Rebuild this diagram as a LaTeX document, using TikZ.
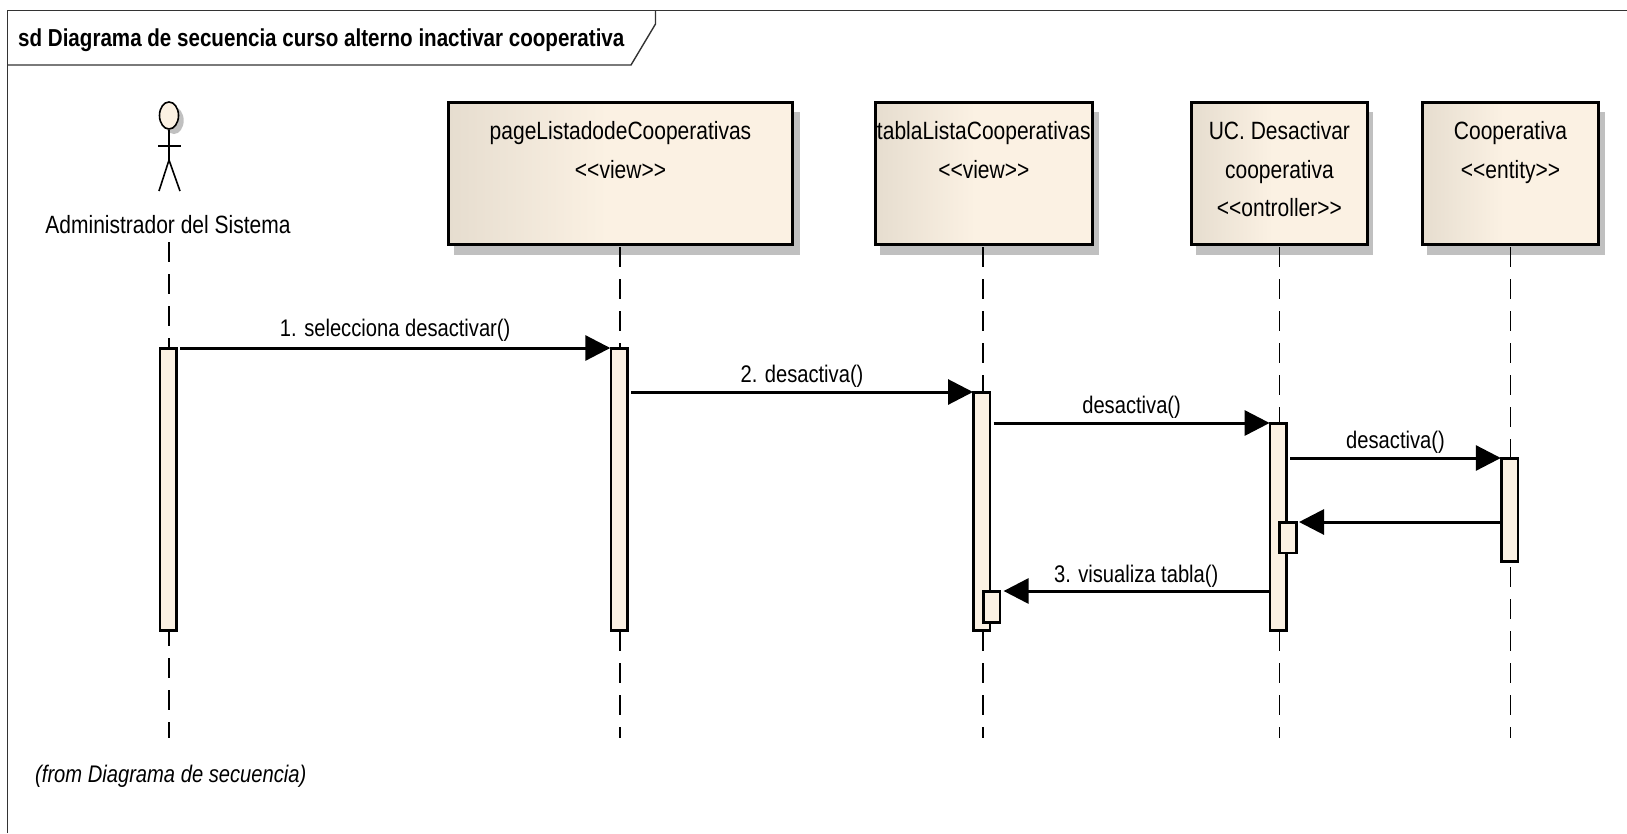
\documentclass[tikz,border=0pt]{standalone}
\usepackage{fontspec}
\setmainfont[FakeStretch=0.84]{Liberation Sans}
\usetikzlibrary{arrows.meta,shapes.geometric}
\definecolor{bgbar}{HTML}{FBF1E3}
\definecolor{bgleft}{HTML}{E6DDCF}
\definecolor{shad}{HTML}{C0C0C0}
\pgfdeclarehorizontalshading{lifehead}{100bp}{color(0bp)=(bgleft); color(25bp)=(bgleft); color(48bp)=(bgbar); color(75bp)=(bgbar); color(100bp)=(bgbar)}
\newcommand{\boxtxt}[3]{\parbox[c][#2pt][t]{#1pt}{\centering\vspace{19pt}\baselineskip=38.5pt #3\par}}
\tikzset{
  txt/.style={inner sep=0pt,font=\fontsize{24}{28}\selectfont},
  head/.style={draw=black,line width=3pt,shading=lifehead,inner sep=0pt,outer sep=0pt,anchor=north west,minimum height=142pt,font=\fontsize{25}{29}\selectfont},
  life/.style={line width=1.7pt,dash pattern=on 20pt off 12pt},
  act/.style={draw=black,line width=2.6pt,fill=bgbar,inner sep=0pt,outer sep=0pt,anchor=north west,minimum width=16.5pt},
  msg/.style={line width=3pt,-{Triangle[length=25pt,width=25pt]}},
}
\begin{document}
\begin{tikzpicture}[x=1pt,y=-1pt]
\useasboundingbox (0,0) rectangle (1627,833);
% frame
\draw[line width=1.4pt,draw=black!80] (7.5,833) -- (7.5,10.5) -- (1627,10.5);
\draw[line width=1.4pt,draw=black!80] (7.5,65) -- (631,65) -- (655.5,24) -- (655.5,10.5);
\node[txt,anchor=west,font=\fontsize{24.5}{28}\selectfont\bfseries] (title) at (18,40) {sd Diagrama de secuencia curso alterno inactivar cooperativa};
% shadows
\fill[shad] (454,112) rectangle (800,255);
\fill[shad] (879.7,112) rectangle (1099.3,255);
\fill[shad] (1195.9,112) rectangle (1373,255);
\fill[shad] (1426.8,112) rectangle (1605.2,255);
% heads
\node[head,minimum width=344pt] (page) at (448.5,102.5) {\boxtxt{344}{142}{pageListadodeCooperativas\\\mbox{<}\mbox{<}view\mbox{>}\mbox{>}}};
\node[head,minimum width=217pt] (tabla) at (875.3,102.5) {\boxtxt{217}{142}{tablaListaCooperativas\\\mbox{<}\mbox{<}view\mbox{>}\mbox{>}}};
\node[head,minimum width=175.8pt] (uc) at (1191.5,102.5) {\boxtxt{175.8}{142}{UC. Desactivar\\cooperativa\\\mbox{<}\mbox{<}ontroller\mbox{>}\mbox{>}}};
\node[head,minimum width=176.5pt] (coop) at (1422.3,102.5) {\boxtxt{176.5}{142}{Cooperativa\\\mbox{<}\mbox{<}entity\mbox{>}\mbox{>}}};
% actor
\fill[shad] (174,120.5) ellipse (9.7 and 13.5);
\node[draw=black,line width=1.6pt,fill=bgbar,ellipse,minimum width=19pt,minimum height=27pt,inner sep=0pt] (actor) at (169,115.5) {};
\coordinate (hip) at (169,160);
\draw[line width=1.6pt] (actor.south) -- (hip);
\draw[line width=2.4pt] (158,146) -- (181,146);
\draw[line width=1.6pt] (159,191) -- (hip) -- (180,191);
\node[txt,font=\fontsize{25}{29}\selectfont] (actorlabel) at (168,225) {Administrador del Sistema};
% lifeline ends
\coordinate (a0) at (169,242);
\coordinate (a1) at (169,738);
\coordinate (p0) at (620,247);
\coordinate (p1) at (620,738);
\coordinate (t0) at (982.8,247);
\coordinate (t1) at (982.8,738);
\coordinate (u0) at (1279.6,247);
\coordinate (u1) at (1279.6,738);
\coordinate (c0) at (1510.6,247);
\coordinate (c1) at (1510.6,738);
\draw[life] (a0) -- (a1);
\draw[life] (p0) -- (p1);
\draw[life] (t0) -- (t1);
\draw[life] (u0) -- (u1);
\draw[life] (c0) -- (c1);
% activations
\node[act,minimum height=282pt] (aa) at (159.8,348.3) {};
\node[act,minimum height=282pt] (ap) at (610.8,348.3) {};
\node[act,minimum height=238pt] (at) at (973.5,392.3) {};
\node[act,minimum height=207pt] (au) at (1270.1,423.3) {};
\node[act,minimum height=103pt] (ac) at (1501.3,458.3) {};
\node[act,minimum height=30.5pt] (su) at (1279.7,522.3) {};
\node[act,minimum height=31pt] (st) at (983.5,591.3) {};
% messages
\draw[msg] ([xshift=3.8pt,yshift=0.3pt]aa.north east) -- ([xshift=-0.5pt,yshift=0.3pt]ap.north west) node[txt,midway,above=5pt] (m1) {1. selecciona desactivar()};
\draw[msg] ([xshift=3.7pt,yshift=-43.7pt]ap.north east) -- ([xshift=-0.5pt,yshift=0.3pt]at.north west) node[txt,midway,above=3pt] (m2) {2. desactiva()};
\draw[msg] ([xshift=3.6pt,yshift=-30.7pt]at.north east) -- ([xshift=-0.5pt,yshift=0.3pt]au.north west) node[txt,midway,above=3pt] (m3) {desactiva()};
\draw[msg] ([xshift=3.6pt,yshift=-34.7pt]au.north east) -- ([xshift=-0.5pt,yshift=0.3pt]ac.north west) node[txt,midway,above=3pt] (m4) {desactiva()};
\draw[msg] ([xshift=-1.3pt,yshift=-63.7pt]ac.north west) -- ([xshift=2.8pt,yshift=0.3pt]su.north east);
\draw[msg] ([xshift=-1.3pt,yshift=-167.7pt]au.north west) -- ([xshift=3.6pt,yshift=0.3pt]st.north east) node[txt,midway,above=2pt] (m5) {3. visualiza tabla()};
\node[txt,anchor=west,font=\fontsize{24}{28}\selectfont\itshape] (from) at (35,776) {(from Diagrama de secuencia)};
\end{tikzpicture}
\end{document}
